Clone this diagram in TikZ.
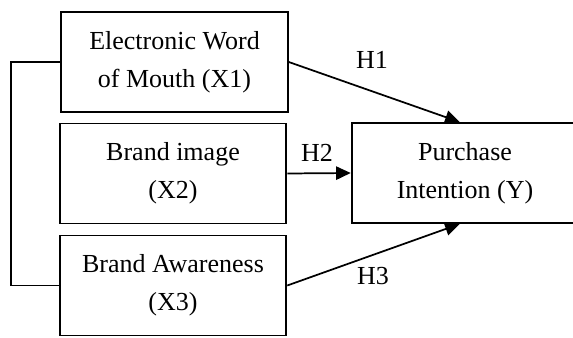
\documentclass[tikz,border=0pt]{standalone}
\usepackage{fontspec}
\setmainfont{Liberation Serif}
\usetikzlibrary{arrows.meta,calc}
\tikzset{
  var/.style={draw,line width=1.4pt,minimum width=170pt,minimum height=75pt,
    inner sep=0pt,align=center,font=\fontsize{19.5}{28.5}\selectfont},
  hyp/.style={font=\fontsize{19.5}{23}\selectfont,inner sep=0pt},
  path/.style={line width=1.3pt,-{Triangle[length=11pt,width=10pt]}}
}
\begin{document}
\begin{tikzpicture}[x=0.75pt,y=-0.75pt]
      \useasboundingbox (0,0) rectangle (573,338);
      \node[var] (x1) at (174.5,62) {Electronic Word\\of Mouth (X1)};
      \node[var] (x2) at (173,173.5) {Brand image\\(X2)};
      \node[var] (x3) at (173,285.5) {Brand Awareness\\(X3)};
      \node[var] (y) at (465,173) {Purchase\\Intention (Y)};
      \coordinate (y1) at ($(y.north west)+(109,0)$);
      \coordinate (y3) at ($(y.south west)+(109,0)$);
      \begin{scope}[path]
        \draw (x1.east) to (y1);
        \draw (x2.east) to (y.west);
        \draw (x3.east) to (y3);
      \end{scope}
      \draw[line width=1.3pt] (x1.west) -- ++(-49,0) |- (x3.west);
      \node[hyp] (h1) at (372,60) {H1};
      \node[hyp] (h2) at (317,153) {H2};
      \node[hyp] (h3) at (373,276) {H3};
    \end{tikzpicture}
\end{document}
